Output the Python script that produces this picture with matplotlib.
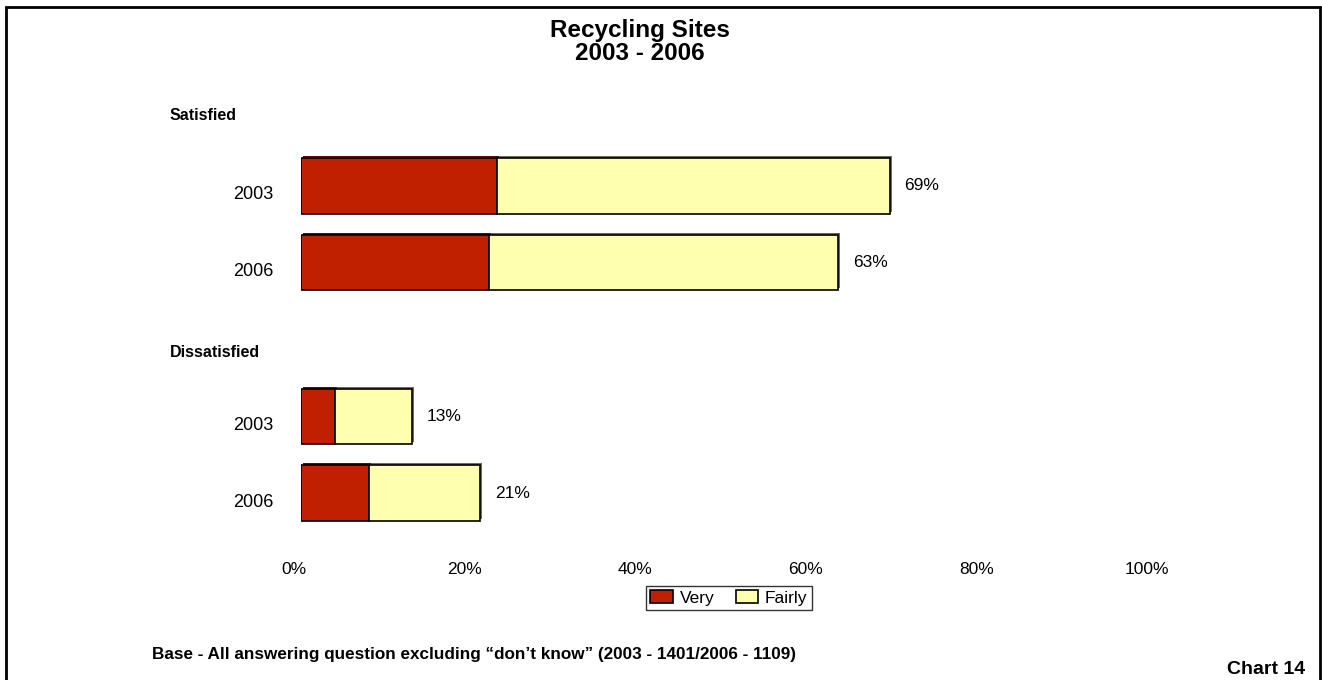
import numpy as np
import matplotlib
matplotlib.use("Agg")
import matplotlib.pyplot as plt
from matplotlib.patches import Rectangle
from matplotlib.transforms import ScaledTranslation

plt.rcParams['font.family'] = ['Liberation Sans', 'DejaVu Sans']

# Dados (percentagens)
grupos = ["Satisfied", "Dissatisfied"]
anos = ["2003", "2006", "2003", "2006"]
muito = [23, 22, 4, 8]        # Very
bastante = [46, 41, 9, 13]    # Fairly
totais = [69, 63, 13, 21]
posicoes = [0, 1, 3, 4]       # slot 2 fica vazio entre os grupos

cor_very = '#C02000'
cor_fairly = '#FFFFB0'

fig = plt.figure(figsize=(13.22, 6.8), dpi=100)
ax = fig.add_axes([301 / 1322, 1 - 550.6 / 680, 853 / 1322, (550.6 - 128.4) / 680])

altura = 0.72

# efeito 3D: barra deslocada para cima/direita, mais escura, por trás
sombra = ax.transData + ScaledTranslation(2 / 100, 2 / 100, fig.dpi_scale_trans)
ax.barh(posicoes, muito, height=altura, color='#5A1000', edgecolor='none',
        transform=sombra, zorder=1)
ax.barh(posicoes, bastante, left=muito, height=altura, color='#6E6E50',
        edgecolor='none', transform=sombra, zorder=1)

ax.barh(posicoes, muito, height=altura, color=cor_very, edgecolor='black',
        linewidth=1.2, label='Very', zorder=2)
ax.barh(posicoes, bastante, left=muito, height=altura, color=cor_fairly,
        edgecolor='black', linewidth=1.2, label='Fairly', zorder=2)

for p, t in zip(posicoes, totais):
    ax.text(t + 1.7, p, f"{t}%", va='center', ha='left', fontsize=12.5)

ax.set_xlim(0, 100)
ax.set_ylim(4.75, -0.75)
ax.set_xticks(np.arange(0, 101, 20))
ax.set_xticklabels([f"{v}%" for v in range(0, 101, 20)], fontsize=12.5)
ax.set_yticks(posicoes)
ax.set_yticklabels(anos, fontsize=13)
ax.tick_params(length=0, pad=8)
ax.tick_params(axis='y', pad=20)
for s in ax.spines.values():
    s.set_visible(False)

# rótulos deslocados como no gráfico original do Excel
for lbl in ax.get_xticklabels():
    lbl.set_transform(lbl.get_transform() + ScaledTranslation(-7 / 100, 0, fig.dpi_scale_trans))
for lbl in ax.get_yticklabels():
    lbl.set_transform(lbl.get_transform() + ScaledTranslation(0, -7 / 100, fig.dpi_scale_trans))

# cabeçalhos dos grupos
fig.text(170 / 1322, 1 - 116 / 680, grupos[0], fontsize=11.5, fontweight='bold', va='center')
fig.text(170 / 1322, 1 - 352 / 680, grupos[1], fontsize=11.5, fontweight='bold', va='center')

fig.text(640 / 1322, 1 - 30 / 680, "Recycling Sites", fontsize=17.5, fontweight='bold',
         ha='center', va='center')
fig.text(640 / 1322, 1 - 54 / 680, "2003 - 2006", fontsize=17.5, fontweight='bold',
         ha='center', va='center')

leg = ax.legend(loc='center', bbox_to_anchor=(729 / 1322, 1 - 598 / 680),
                bbox_transform=fig.transFigure, ncol=2, frameon=True, fancybox=False,
                edgecolor='black', fontsize=12.5, handlelength=1.3, handleheight=0.8,
                handletextpad=0.4, columnspacing=1.2, borderpad=0.25)
leg.get_frame().set_linewidth(1)

fig.text(152 / 1322, 1 - 654 / 680,
         "Base - All answering question excluding \u201cdon\u2019t know\u201d (2003 - 1401/2006 - 1109)",
         fontsize=12.3, fontweight='bold', va='center')
fig.text(1305 / 1322, 1 - 670 / 680, "Chart 14", fontsize=14, fontweight='bold',
         ha='right', va='center')

# moldura em volta da figura
fig.patches.append(Rectangle((6 / 1322, -0.05), (1320 - 6) / 1322, 1 - 7 / 680 + 0.05,
                             transform=fig.transFigure, fill=False, edgecolor='black',
                             linewidth=2))

fig.savefig("out.png", dpi=100)
